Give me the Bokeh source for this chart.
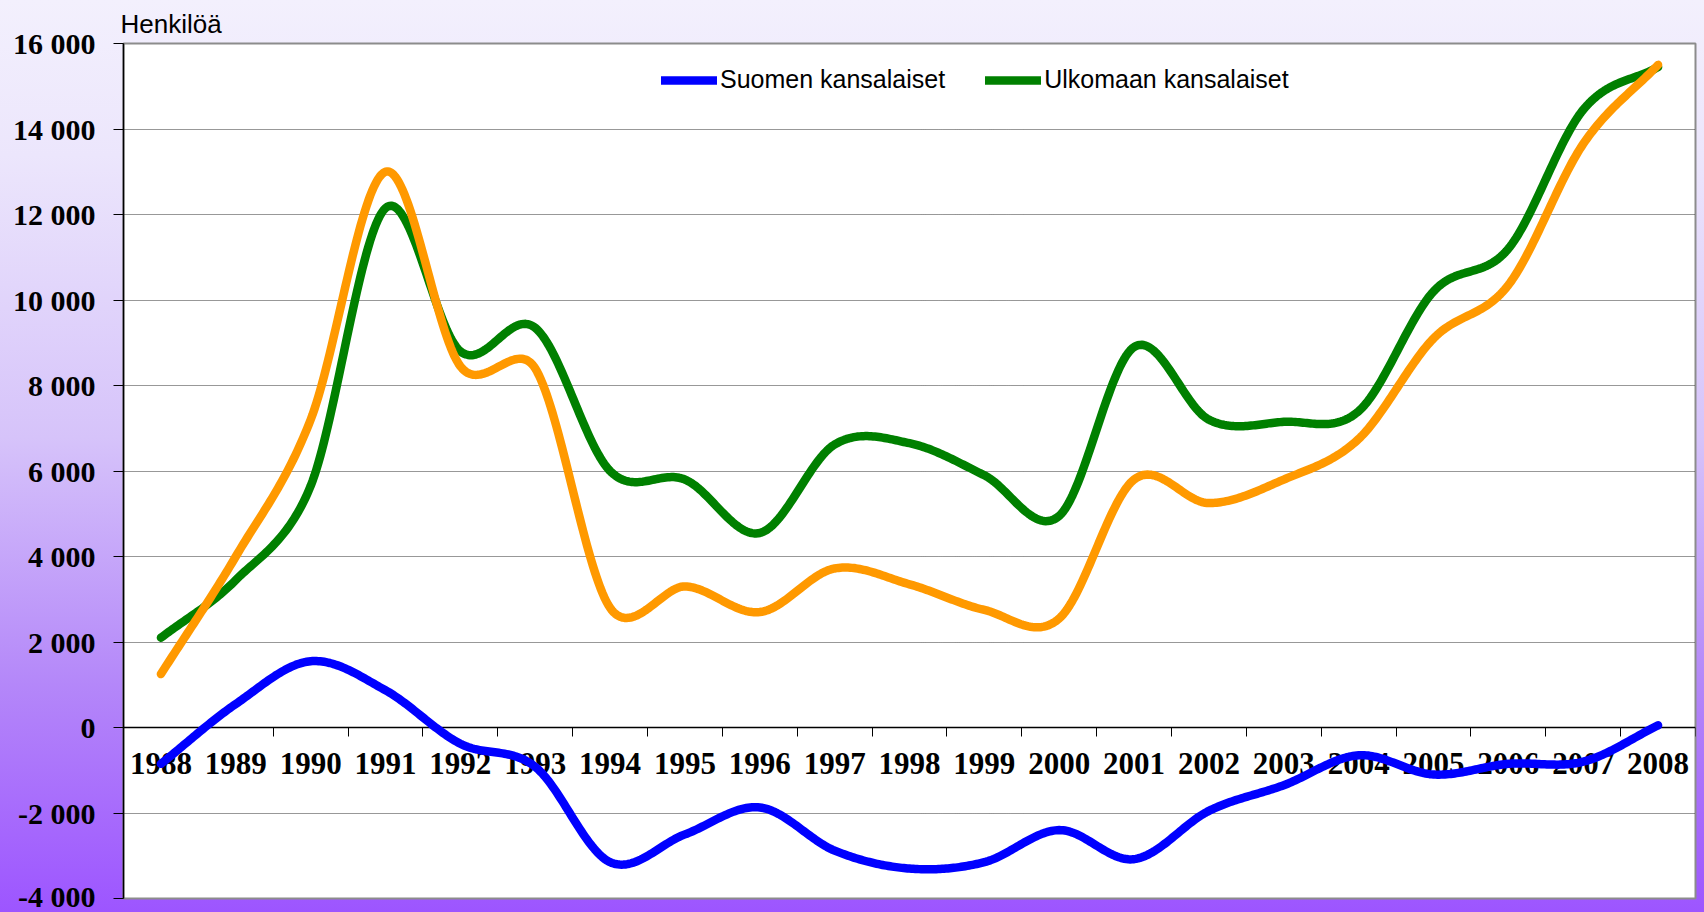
import numpy as np
from bokeh.plotting import figure
from bokeh.models import (LinearAxis, FixedTicker, Range1d, Legend, LegendItem,
                          Title, Grid)
from bokeh.embed import file_html
from bokeh.resources import INLINE

# ---------------- data ----------------
years = [1988, 1989, 1990, 1991, 1992, 1993, 1994, 1995, 1996, 1997, 1998,
         1999, 2000, 2001, 2002, 2003, 2004, 2005, 2006, 2007, 2008]
suomen = [-850, 550, 1550, 870, -380, -920, -3150, -2500, -1870, -2880, -3300,
          -3150, -2400, -3080, -1950, -1350, -650, -1100, -850, -800, 50]
ulkomaan = [2100, 3450, 5650, 12150, 8800, 9350, 6000, 5800, 4550, 6620, 6650,
            5900, 4950, 8900, 7200, 7150, 7400, 10200, 11200, 14450, 15450]
yhteensa = [1250, 4000, 7200, 13000, 8450, 8400, 2800, 3300, 2700, 3720, 3350,
            2750, 2550, 5800, 5250, 5800, 6750, 9100, 10350, 13650, 15500]
series_names = ["Suomen kansalaiset", "Ulkomaan kansalaiset"]
y_ticks = [-4000, -2000, 0, 2000, 4000, 6000, 8000, 10000, 12000, 14000, 16000]
y_tick_labels = ["-4 000", "-2 000", "0", "2 000", "4 000", "6 000", "8 000",
                 "10 000", "12 000", "14 000", "16 000"]
y_title = "Henkilöä"

# ---------------- layout constants ----------------
W, H = 1704, 912
ML, MR, MT, MB = 123, 9, 43, 14
FW, FH = W - ML - MR, H - MT - MB
X0, X1 = years[0] - 0.5, years[-1] + 0.5
Y0, Y1 = -4000, 16000
KX = FW / (X1 - X0)
KY = FH / (Y1 - Y0)


def excel_smooth(xs, ys, n=40):
    """Excel-style smoothed line (Bezier segments computed in screen space)."""
    P = np.column_stack([np.asarray(xs, float) * KX, np.asarray(ys, float) * KY])
    m = len(P)
    out = [P[0]]
    for i in range(m - 1):
        p0 = P[i - 1] if i > 0 else P[i]
        p1, p2 = P[i], P[i + 1]
        p3 = P[i + 2] if i + 2 < m else P[i + 1]
        d12 = np.linalg.norm(p2 - p1)
        d02 = np.linalg.norm(p2 - p0)
        d13 = np.linalg.norm(p3 - p1)
        if d02 / 6 < d12 / 2 and d13 / 6 < d12 / 2:
            f = 1 / 6 if i > 0 else 1 / 3
            g = 1 / 6 if i + 2 < m else 1 / 3
        elif d02 / 6 >= d12 / 2 and d13 / 6 >= d12 / 2:
            f = d12 / d02 / 2
            g = d12 / d13 / 2
        elif d02 / 6 >= d12 / 2:
            f = d12 / d02 / 2
            g = d12 / d02 / 2
        else:
            f = d12 / d13 / 2
            g = d12 / d13 / 2
        c1 = p1 + (p2 - p0) * f
        c2 = p2 - (p3 - p1) * g
        t = np.linspace(0, 1, n)[1:, None]
        b = ((1 - t) ** 3) * p1 + 3 * ((1 - t) ** 2) * t * c1 + 3 * (1 - t) * t ** 2 * c2 + t ** 3 * p2
        out.extend(b)
    out = np.array(out)
    return out[:, 0] / KX, out[:, 1] / KY


p = figure(width=W, height=H, output_backend="svg", toolbar_location=None,
           x_range=Range1d(X0, X1), y_range=Range1d(Y0, Y1),
           x_axis_type=None, y_axis_type=None,
           min_border_left=ML, min_border_right=MR, min_border_top=MT,
           min_border_bottom=MB)
p.background_fill_color = "white"
p.border_fill_color = None
p.outline_line_color = "#8c8c8c"
p.outline_line_width = 2

# title (y-axis unit) above the frame
p.add_layout(Title(text=y_title, align="left", offset=-3, standoff=10,
                   text_font="Liberation Sans", text_font_size="26px",
                   text_font_style="normal", text_color="black"), "above")

# grid
grid = Grid(dimension=1, ticker=FixedTicker(ticks=y_ticks),
            grid_line_color="#303030", grid_line_dash="1 1", grid_line_width=1)
p.add_layout(grid)

# y axis
yaxis = LinearAxis(ticker=FixedTicker(ticks=y_ticks),
                   major_label_overrides=dict(zip(y_ticks, y_tick_labels)))
yaxis.axis_line_color = "black"
yaxis.axis_line_width = 1.5
yaxis.major_tick_line_color = "black"
yaxis.major_tick_out = 10
yaxis.major_tick_in = 0
yaxis.minor_tick_line_color = None
yaxis.major_label_standoff = 18
yaxis.major_label_text_font = "Liberation Serif"
yaxis.major_label_text_font_style = "bold"
yaxis.major_label_text_font_size = "30px"
yaxis.major_label_text_color = "black"
p.add_layout(yaxis, "left")

# x axis at y = 0
bounds = [y - 0.5 for y in years] + [years[-1] + 0.5]
xaxis = LinearAxis(ticker=FixedTicker(ticks=years, minor_ticks=bounds),
                   fixed_location=0,
                   major_label_overrides={y: str(y) for y in years})
xaxis.axis_line_color = "black"
xaxis.axis_line_width = 1.5
xaxis.major_tick_line_color = None
xaxis.minor_tick_line_color = "black"
xaxis.minor_tick_out = 9
xaxis.minor_tick_in = 0
xaxis.major_label_standoff = 16
xaxis.major_label_text_font = "Liberation Serif"
xaxis.major_label_text_font_style = "bold"
xaxis.major_label_text_font_size = "31px"
xaxis.major_label_text_color = "black"
p.add_layout(xaxis, "below")

# lines
renderers = []
for vals, col in [(suomen, "#0000ff"), (ulkomaan, "#008000"), (yhteensa, "#ff9900")]:
    sx, sy = excel_smooth(years, vals)
    r = p.line(sx, sy, line_color=col, line_width=8.5, line_cap="round",
               line_join="round", level="annotation")
    renderers.append(r)

legend = Legend(items=[LegendItem(label=series_names[0], renderers=[renderers[0]]),
                       LegendItem(label=series_names[1], renderers=[renderers[1]])],
                orientation="horizontal", location=(538, 804),
                padding=0, margin=0, spacing=40, label_standoff=3,
                glyph_width=56, glyph_height=20,
                label_text_font="Liberation Sans", label_text_font_size="25px",
                label_text_color="black",
                background_fill_alpha=0, border_line_color=None)
p.add_layout(legend)

html = file_html(p, INLINE)
css = ("<style>html{min-height:100%;background:linear-gradient(180deg,"
       "#f3f0fd 0%,#ece6fc 17%,#d6c3fa 48%,#b487f9 75%,#9d55ff 100%);}</style>")
html = html.replace("</head>", css + "</head>", 1)
open("out.html", "w").write(html)
